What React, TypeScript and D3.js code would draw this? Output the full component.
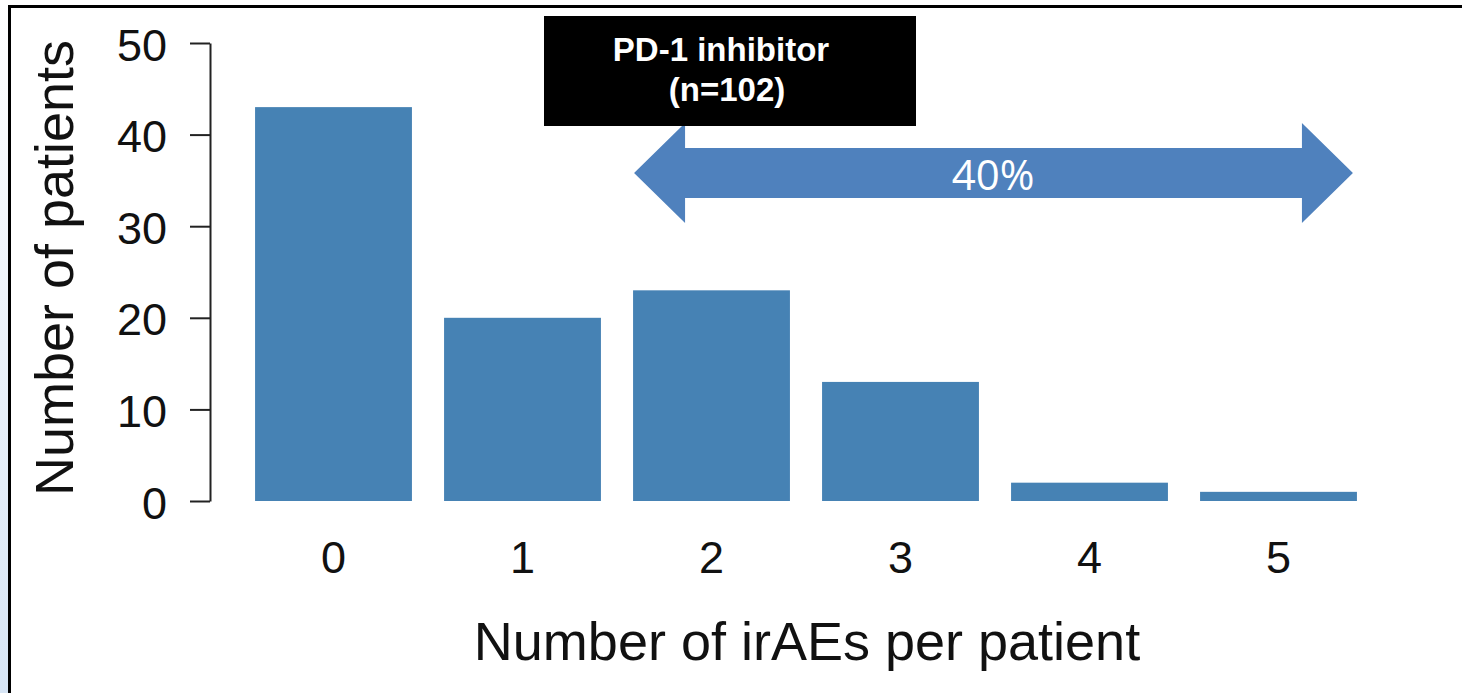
import React, { FC, useEffect, useRef } from 'react';
import * as d3 from 'd3';

// counts of patients by number of irAEs (sums to n=102)
const categories = ['0', '1', '2', '3', '4', '5'];
const patients = [43, 20, 23, 13, 2, 1];
const yTicks = [0, 10, 20, 30, 40, 50];
const boxLines = ['PD-1 inhibitor', '(n=102)'];
const arrowLabel = '40%';

const WIDTH = 1462;
const HEIGHT = 693;
const barColor = '#4682b4';
const arrowColor = '#4f81bd';
const axisFont = '"Liberation Sans", Arial, Helvetica, sans-serif';
const labelFont = '"Open Sans", "Liberation Sans", sans-serif';

const App: FC = () => {
  const ref = useRef<SVGSVGElement | null>(null);

  useEffect(() => {
    if (!ref.current) {
      return;
    }
    const svg = d3.select(ref.current);
    svg.selectAll('*').remove();

    const x = d3
      .scaleBand<string>()
      .domain(categories)
      .range([239, 1373])
      .paddingInner(0.17)
      .paddingOuter(0.085);
    const y = d3.scaleLinear().domain([0, 50]).range([501, 43]);

    // light blue fade left of the frame
    const defs = svg.append('defs');
    const grad = defs
      .append('linearGradient')
      .attr('id', 'edge')
      .attr('x1', 0)
      .attr('y1', 0)
      .attr('x2', 0)
      .attr('y2', 1);
    grad.append('stop').attr('offset', '0%').attr('stop-color', '#ffffff');
    grad.append('stop').attr('offset', '100%').attr('stop-color', '#d7e5f5');

    svg
      .append('rect')
      .attr('width', WIDTH)
      .attr('height', HEIGHT)
      .attr('fill', '#ffffff');
    svg
      .append('rect')
      .attr('x', 0)
      .attr('y', 0)
      .attr('width', 8)
      .attr('height', HEIGHT)
      .attr('fill', 'url(#edge)');

    // frame
    svg
      .append('line')
      .attr('x1', 8)
      .attr('x2', WIDTH)
      .attr('y1', 6.5)
      .attr('y2', 6.5)
      .attr('stroke', '#000')
      .attr('stroke-width', 3);
    svg
      .append('line')
      .attr('x1', 9.5)
      .attr('x2', 9.5)
      .attr('y1', 5)
      .attr('y2', HEIGHT)
      .attr('stroke', '#000')
      .attr('stroke-width', 3);

    // bars
    svg
      .append('g')
      .attr('fill', barColor)
      .selectAll('rect')
      .data(patients)
      .join('rect')
      .attr('x', (d, i) => x(categories[i]) || 0)
      .attr('y', (d) => y(d))
      .attr('width', x.bandwidth())
      .attr('height', (d) => y(0) - y(d));

    // y axis
    const yAxis = svg
      .append('g')
      .attr('transform', 'translate(210,0)')
      .call(
        d3
          .axisLeft(y)
          .tickValues(yTicks)
          .tickSize(20)
          .tickSizeOuter(0)
          .tickPadding(23),
      );
    yAxis.select('.domain').attr('stroke', '#222').attr('stroke-width', 2);
    yAxis.selectAll('.tick line').attr('stroke', '#222').attr('stroke-width', 2);
    yAxis
      .selectAll('.tick text')
      .attr('fill', '#111')
      .attr('font-family', axisFont)
      .attr('font-size', 45)
      .attr('dy', '0.38em');

    // x tick labels, no axis line
    svg
      .append('g')
      .selectAll('text')
      .data(categories)
      .join('text')
      .attr('x', (d) => (x(d) || 0) + x.bandwidth() / 2)
      .attr('y', 573)
      .attr('text-anchor', 'middle')
      .attr('font-family', axisFont)
      .attr('font-size', 45)
      .attr('fill', '#111')
      .text((d) => d);

    // axis titles
    svg
      .append('text')
      .attr('x', 807)
      .attr('y', 660)
      .attr('text-anchor', 'middle')
      .attr('font-family', axisFont)
      .attr('font-size', 54)
      .attr('fill', '#111')
      .text('Number of irAEs per patient');
    svg
      .append('text')
      .attr('transform', 'translate(73,268) rotate(-90)')
      .attr('text-anchor', 'middle')
      .attr('font-family', axisFont)
      .attr('font-size', 54)
      .attr('fill', '#111')
      .text('Number of patients');

    // double arrow from category 2 to the end of category 5
    const left = (x('2') || 0) + 1;
    const right = (x('5') || 0) + x.bandwidth() - 4;
    const cy = y(35.8);
    const head = 51;
    const headHalf = 50;
    const shaftHalf = 25;
    const pts: [number, number][] = [
      [left, cy],
      [left + head, cy - headHalf],
      [left + head, cy - shaftHalf],
      [right - head, cy - shaftHalf],
      [right - head, cy - headHalf],
      [right, cy],
      [right - head, cy + headHalf],
      [right - head, cy + shaftHalf],
      [left + head, cy + shaftHalf],
      [left + head, cy + headHalf],
    ];
    svg
      .append('polygon')
      .attr('points', pts.map((p) => p.join(',')).join(' '))
      .attr('fill', arrowColor);
    svg
      .append('text')
      .attr('x', 993)
      .attr('y', cy + 17)
      .attr('text-anchor', 'middle')
      .attr('font-family', labelFont)
      .attr('font-size', 42)
      .attr('fill', '#ffffff')
      .text(arrowLabel);

    // black label box
    svg
      .append('rect')
      .attr('x', 544)
      .attr('y', 16)
      .attr('width', 372)
      .attr('height', 110)
      .attr('fill', '#000');
    svg
      .append('g')
      .attr('font-family', axisFont)
      .attr('font-weight', 700)
      .attr('font-size', 33)
      .attr('fill', '#fff')
      .attr('text-anchor', 'middle')
      .selectAll('text')
      .data(boxLines)
      .join('text')
      .attr('x', (d, i) => (i === 0 ? 721 : 727))
      .attr('y', (d, i) => 61 + i * 40)
      .text((d) => d);
  }, []);

  return (
    <svg
      ref={ref}
      width={WIDTH}
      height={HEIGHT}
      style={{ position: 'absolute', left: 0, top: 0, display: 'block' }}
    />
  );
};

export default App;
